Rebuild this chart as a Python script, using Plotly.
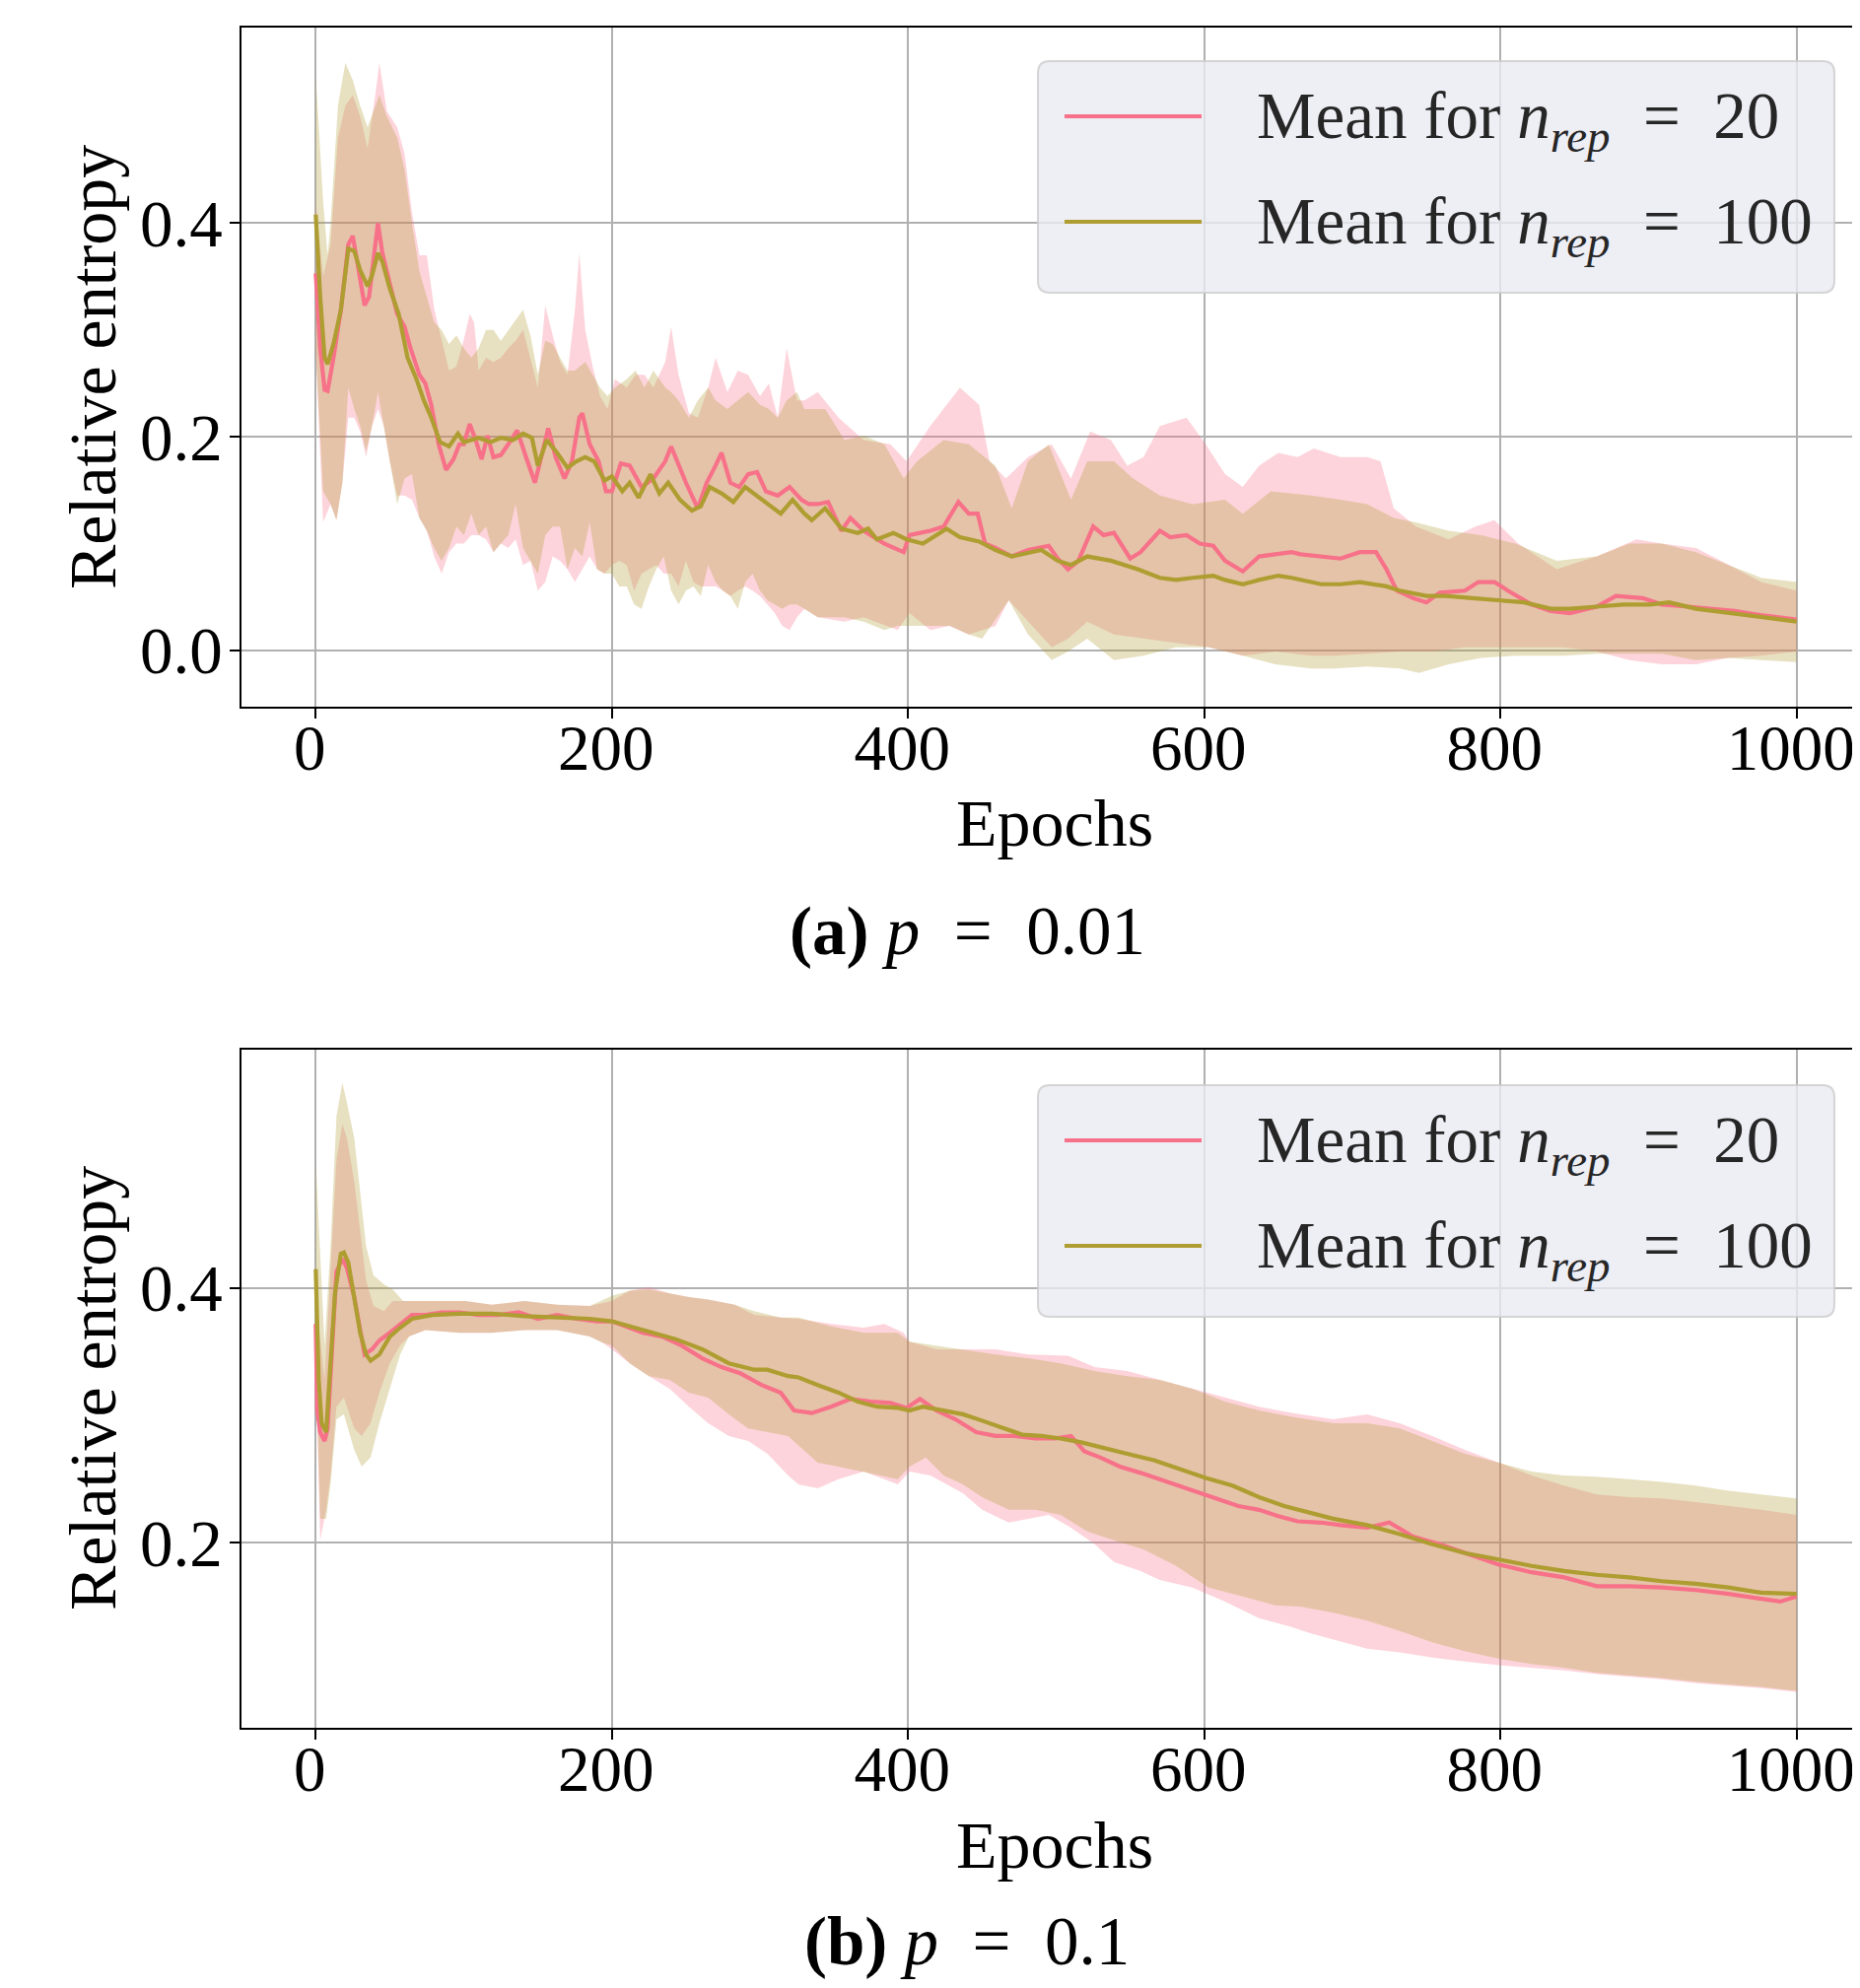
import plotly.graph_objects as go

W, H = 1887, 2017               # browser window
OFF = 8                         # default body margin of the html page
FW, FH = W - OFF, H - 2 * OFF   # figure size: fits the window without scrollbars
FONT = "Liberation Serif"
PINK = "#f77189"
OLIVE = "#ae9d31"
PINK_FILL = "rgba(247,113,137,0.30)"
OLIVE_FILL = "rgba(174,157,49,0.30)"
NB = "\u00a0"

X_TICKS = [0, 200, 400, 600, 800, 1000]
X_TICK_LABELS = ["0", "200", "400", "600", "800", "1000"]
A_Y_TICKS = [0.0, 0.2, 0.4]
A_Y_TICK_LABELS = ["0.0", "0.2", "0.4"]
B_Y_TICKS = [0.2, 0.4]
B_Y_TICK_LABELS = ["0.2", "0.4"]
LEGEND_LABELS = [f"Mean for <i>n</i><sub><i>rep</i></sub>{NB}{NB}={NB}{NB}20",
                 f"Mean for <i>n</i><sub><i>rep</i></sub>{NB}{NB}={NB}{NB}100"]
CAPTIONS = [f"<b>(a)</b> <i>p</i>{NB}{NB}={NB}{NB}0.01", f"<b>(b)</b> <i>p</i>{NB}{NB}={NB}{NB}0.1"]

# ---------------- panel (a): p = 0.01 ----------------  (epoch, value)
A_MEAN20 = [(0,0.353),(3,0.283),(6,0.244),(8,0.243),(12,0.274),(17,0.319),(22,0.380),(25,0.388),(28,0.364),
            (33,0.323),(36,0.331),(40,0.380),(42,0.400),(45,0.372),(50,0.343),(55,0.315),(60,0.303),(64,0.283),
            (70,0.258),(74,0.250),(78,0.230),(83,0.193),(88,0.169),(93,0.179),(97,0.193),(100,0.193),(104,0.212),
            (108,0.197),(112,0.179),(116,0.201),(120,0.181),(125,0.183),(130,0.193),(136,0.206),(142,0.181),
            (148,0.157),(153,0.185),(157,0.208),(162,0.181),(168,0.161),(173,0.177),(178,0.218),(180,0.222),
            (185,0.193),(191,0.177),(196,0.149),(200,0.149),(206,0.175),(212,0.173),(220,0.153),(228,0.161),
            (236,0.177),(240,0.191),(250,0.157),(258,0.133),(264,0.157),(270,0.173),(274,0.185),(280,0.157),
            (286,0.153),(292,0.165),(298,0.167),(304,0.149),(312,0.145),(320,0.153),(328,0.141),
            (333,0.137),(339,0.137),(346,0.139),(355,0.112),(361,0.124),(370,0.112),(384,0.100),(397,0.092),
            (401,0.108),(415,0.112),(424,0.116),(434,0.139),(441,0.128),(447,0.128),(452,0.100),(459,0.096),
            (470,0.088),(481,0.094),(495,0.098),(501,0.086),(508,0.076),(515,0.084),(525,0.116),(532,0.108),
            (539,0.110),(550,0.086),(557,0.092),(570,0.112),(577,0.106),(588,0.108),(597,0.100),(606,0.098),
            (614,0.084),(626,0.074),(637,0.088),(648,0.090),(659,0.092),(665,0.090),(679,0.088),(692,0.086),
            (705,0.092),(716,0.092),(723,0.076),(730,0.056),(741,0.049),(750,0.045),(759,0.054),(776,0.056),
            (785,0.064),(796,0.064),(805,0.056),(821,0.043),(834,0.037),(847,0.035),(865,0.041),(878,0.051),
            (896,0.049),(909,0.043),(927,0.041),(943,0.039),(958,0.037),(976,0.033),(989,0.031),(1000,0.029)]
A_MEAN100 = [(0,0.408),(3,0.331),(6,0.274),(8,0.268),(12,0.287),(17,0.319),(22,0.376),(26,0.374),(30,0.356),
             (35,0.341),(38,0.351),(42,0.372),(45,0.364),(50,0.339),(56,0.315),(62,0.274),(68,0.254),(73,0.234),
             (78,0.218),(84,0.195),(90,0.191),(96,0.203),(100,0.195),(110,0.199),(118,0.195),(125,0.199),
             (133,0.197),(140,0.203),(146,0.199),(150,0.173),(156,0.197),(163,0.185),(170,0.171),(176,0.177),
             (182,0.181),(188,0.177),(195,0.159),(200,0.163),(207,0.149),(212,0.157),(218,0.143),(226,0.165),
             (232,0.147),(238,0.157),(246,0.141),(254,0.131),(260,0.135),(266,0.153),(274,0.147),(282,0.139),
             (290,0.153),(298,0.145),(306,0.137),(314,0.128),(322,0.141),(330,0.128),(335,0.122),(344,0.133),
             (355,0.114),(366,0.110),(373,0.114),(379,0.104),(390,0.110),(399,0.104),(410,0.100),(426,0.114),
             (435,0.106),(448,0.102),(459,0.094),(470,0.088),(490,0.094),(501,0.084),(510,0.080),(521,0.088),
             (537,0.084),(555,0.076),(570,0.068),(581,0.066),(592,0.068),(606,0.070),(614,0.066),(626,0.062),
             (637,0.066),(650,0.070),(659,0.068),(665,0.066),(679,0.062),(692,0.062),(705,0.064),(723,0.060),
             (732,0.056),(750,0.051),(763,0.051),(781,0.049),(799,0.047),(816,0.045),(834,0.039),(847,0.039),
             (865,0.041),(883,0.043),(901,0.043),(914,0.045),(932,0.039),(954,0.035),(976,0.031),(1000,0.027)]
A_UP20 = [(0,0.42),(5,0.35),(10,0.38),(15,0.48),(20,0.51),(25,0.52),(30,0.50),(35,0.47),(40,0.518),(43,0.55),
          (48,0.505),(55,0.49),(60,0.465),(65,0.41),(70,0.37),(75,0.37),(80,0.32),(85,0.29),(90,0.262),
          (95,0.266),(100,0.291),(104,0.315),(107,0.307),(110,0.262),(115,0.274),(120,0.27),(125,0.274),
          (130,0.283),(135,0.29),(140,0.30),(145,0.274),(150,0.246),(155,0.323),(160,0.295),(165,0.27),
          (170,0.258),(175,0.319),(178,0.372),(182,0.30),(187,0.266),(192,0.238),(197,0.226),(202,0.254),
          (210,0.246),(216,0.258),(222,0.258),(228,0.246),(236,0.27),(240,0.303),(245,0.258),(252,0.222),
          (258,0.218),(265,0.246),(270,0.274),(278,0.242),(285,0.262),(292,0.258),(300,0.238),(306,0.250),
          (312,0.218),(318,0.283),(325,0.234),(330,0.234),(339,0.242),(353,0.218),(370,0.197),(388,0.193),
          (399,0.177),(415,0.21),(435,0.246),(448,0.230),(455,0.177),(466,0.161),(481,0.181),(497,0.193),
          (510,0.161),(523,0.205),(537,0.197),(548,0.173),(559,0.181),(570,0.21),(588,0.218),(601,0.193),
          (614,0.165),(626,0.153),(637,0.173),(650,0.185),(663,0.181),(674,0.189),(692,0.181),(710,0.181),
          (719,0.177),(728,0.133),(743,0.116),(765,0.104),(783,0.116),(796,0.122),(812,0.10),(838,0.076),
          (865,0.088),(892,0.104),(909,0.10),(932,0.096),(949,0.084),(976,0.064),(1000,0.056)]
A_UP100 = [(0,0.54),(5,0.42),(8,0.37),(10,0.40),(15,0.51),(20,0.55),(25,0.534),(30,0.51),(35,0.49),(40,0.51),
           (43,0.52),(48,0.50),(55,0.48),(60,0.45),(65,0.40),(70,0.355),(75,0.33),(80,0.307),(85,0.30),
           (90,0.287),(95,0.295),(100,0.283),(105,0.274),(110,0.283),(115,0.30),(120,0.30),(125,0.29),
           (130,0.30),(135,0.31),(140,0.319),(145,0.295),(150,0.258),(155,0.29),(160,0.287),(165,0.274),
           (170,0.262),(175,0.262),(182,0.27),(187,0.258),(192,0.246),(197,0.238),(202,0.246),(210,0.254),
           (216,0.262),(222,0.246),(228,0.262),(236,0.246),(240,0.242),(245,0.234),(252,0.218),(258,0.234),
           (265,0.246),(270,0.234),(278,0.226),(285,0.234),(292,0.242),(300,0.230),(306,0.226),(312,0.218),
           (318,0.234),(325,0.242),(330,0.226),(344,0.226),(357,0.197),(370,0.201),(384,0.193),(397,0.161),
           (406,0.177),(424,0.197),(441,0.193),(459,0.173),(470,0.133),(481,0.177),(495,0.193),(510,0.141),
           (521,0.177),(539,0.177),(552,0.161),(570,0.145),(592,0.137),(614,0.141),(626,0.128),(645,0.149),
           (672,0.145),(692,0.141),(710,0.137),(728,0.124),(743,0.120),(765,0.112),(787,0.108),(810,0.10),
           (838,0.084),(865,0.088),(887,0.10),(909,0.10),(932,0.092),(954,0.080),(976,0.068),(1000,0.064)]
A_LO20 = [(0,0.28),(5,0.12),(10,0.137),(14,0.122),(18,0.157),(22,0.218),(26,0.218),(30,0.205),(34,0.181),
          (38,0.21),(42,0.226),(46,0.21),(50,0.177),(55,0.145),(60,0.145),(65,0.141),(70,0.124),(75,0.112),
          (80,0.088),(85,0.072),(90,0.092),(95,0.10),(100,0.10),(105,0.108),(110,0.108),(115,0.104),
          (120,0.092),(125,0.10),(130,0.096),(135,0.104),(140,0.08),(145,0.084),(150,0.056),(155,0.064),
          (160,0.088),(165,0.084),(170,0.076),(175,0.064),(180,0.076),(185,0.088),(190,0.076),(195,0.072),
          (200,0.08),(205,0.084),(210,0.08),(215,0.056),(220,0.072),(225,0.076),(230,0.080),(235,0.072),
          (240,0.072),(245,0.06),(250,0.084),(255,0.064),(260,0.06),(265,0.06),(270,0.06),(275,0.056),
          (280,0.051),(285,0.056),(290,0.06),(295,0.056),(300,0.051),(305,0.043),(310,0.035),(315,0.023),
          (320,0.019),(325,0.031),(330,0.039),(339,0.031),(357,0.027),(370,0.031),(393,0.019),(401,0.035),
          (415,0.019),(428,0.023),(441,0.015),(459,0.023),(468,0.047),(481,0.027),(497,0.003),(508,0.011),
          (521,0.027),(539,0.015),(559,0.011),(581,0.007),(603,0.003),(626,-0.005),(648,-0.001),(672,-0.005),
          (688,-0.005),(710,-0.003),(732,-0.001),(754,-0.001),(776,0.003),(799,0.003),(821,0.003),(843,0.003),
          (865,-0.001),(887,-0.009),(909,-0.013),(932,-0.013),(954,-0.007),(976,-0.005),(1000,-0.001)]
A_LO100 = [(0,0.28),(5,0.149),(10,0.137),(14,0.122),(18,0.157),(22,0.246),(26,0.226),(30,0.21),(34,0.187),
           (38,0.21),(42,0.242),(46,0.21),(50,0.177),(55,0.137),(60,0.161),(65,0.165),(70,0.124),(75,0.112),
           (80,0.096),(85,0.084),(90,0.096),(95,0.116),(100,0.108),(105,0.128),(110,0.108),(115,0.116),
           (120,0.092),(125,0.10),(130,0.108),(135,0.137),(140,0.096),(145,0.084),(150,0.072),(155,0.108),
           (160,0.116),(165,0.116),(170,0.076),(175,0.096),(180,0.088),(185,0.12),(190,0.076),(195,0.072),
           (200,0.072),(205,0.06),(210,0.06),(215,0.043),(220,0.039),(225,0.06),(230,0.076),(235,0.088),
           (240,0.056),(245,0.043),(250,0.056),(255,0.06),(260,0.051),(265,0.08),(270,0.064),(275,0.056),
           (280,0.051),(285,0.039),(290,0.064),(295,0.072),(300,0.056),(305,0.047),(310,0.043),(315,0.039),
           (320,0.043),(325,0.043),(330,0.039),(339,0.031),(357,0.031),(370,0.027),(384,0.019),(393,0.023),
           (415,0.023),(428,0.023),(441,0.015),(450,0.011),(468,0.047),(481,0.015),(497,-0.009),(508,-0.001),
           (521,0.011),(539,-0.009),(559,-0.005),(581,0.003),(603,0.003),(626,-0.005),(648,-0.013),(672,-0.017),
           (688,-0.017),(710,-0.015),(732,-0.017),(745,-0.021),(765,-0.013),(787,-0.007),(810,-0.005),
           (843,-0.005),(865,-0.003),(887,-0.003),(909,-0.003),(932,-0.009),(954,-0.007),(976,-0.009),(1000,-0.011)]

# ---------------- panel (b): p = 0.1 ----------------
B_MEAN20 = [(0,0.372),(1,0.304),(3,0.287),(6,0.280),(8,0.290),(11,0.348),(14,0.413),(18,0.423),(21,0.416),
            (26,0.393),(30,0.365),(33,0.348),(38,0.352),(43,0.359),(50,0.365),(57,0.372),(65,0.379),(74,0.379),
            (85,0.381),(97,0.381),(110,0.379),(123,0.379),(137,0.381),(150,0.376),(163,0.379),(176,0.376),
            (190,0.374),(200,0.374),(210,0.370),(221,0.365),(234,0.362),(247,0.355),(261,0.345),(274,0.338),
            (287,0.333),(301,0.324),(314,0.318),(323,0.304),(335,0.302),(348,0.307),(361,0.313),(375,0.311),
            (388,0.310),(399,0.306),(408,0.313),(419,0.304),(432,0.297),(446,0.287),(459,0.284),(472,0.284),
            (486,0.282),(499,0.282),(510,0.284),(519,0.272),(530,0.267),(543,0.260),(557,0.255),(570,0.250),
            (583,0.245),(597,0.239),(610,0.234),(623,0.229),(637,0.226),(650,0.221),(663,0.217),(679,0.216),
            (692,0.214),(710,0.212),(725,0.216),(741,0.205),(759,0.199),(781,0.190),(799,0.183),(821,0.177),
            (843,0.173),(865,0.166),(887,0.166),(909,0.165),(932,0.163),(954,0.160),(976,0.156),(989,0.154),
            (1000,0.158)]
B_MEAN100 = [(0,0.415),(2,0.328),(4,0.294),(7,0.287),(10,0.341),(13,0.396),(17,0.427),(19,0.428),(22,0.420),
             (26,0.393),(30,0.365),(34,0.348),(37,0.343),(43,0.348),(50,0.362),(57,0.369),(65,0.376),(79,0.379),
             (97,0.380),(119,0.380),(141,0.378),(163,0.377),(185,0.376),(200,0.374),(216,0.369),(230,0.364),
             (243,0.360),(261,0.352),(279,0.341),(296,0.336),(305,0.336),(319,0.331),(326,0.330),(339,0.324),
             (353,0.318),(366,0.311),(379,0.307),(393,0.306),(401,0.304),(410,0.307),(424,0.304),(437,0.301),
             (450,0.296),(464,0.290),(477,0.285),(490,0.284),(503,0.282),(517,0.279),(530,0.275),(548,0.270),
             (566,0.265),(583,0.258),(601,0.251),(619,0.245),(637,0.236),(654,0.229),(672,0.224),(687,0.219),
             (710,0.214),(732,0.207),(754,0.199),(776,0.192),(799,0.187),(821,0.182),(843,0.178),(865,0.175),
             (887,0.173),(909,0.170),(932,0.168),(954,0.165),(976,0.161),(1000,0.160)]
B_UP20 = [(0,0.38),(2,0.37),(6,0.328),(10,0.41),(14,0.501),(18,0.529),(21,0.518),(26,0.484),(30,0.443),
          (34,0.406),(39,0.386),(46,0.382),(52,0.390),(59,0.390),(70,0.390),(85,0.390),(101,0.390),(119,0.387),
          (141,0.390),(163,0.387),(185,0.386),(200,0.390),(212,0.398),(225,0.401),(239,0.396),(252,0.393),
          (265,0.391),(283,0.387),(296,0.379),(314,0.377),(326,0.376),(348,0.372),(370,0.369),(384,0.372),
          (397,0.365),(401,0.358),(419,0.352),(437,0.352),(459,0.352),(481,0.348),(508,0.347),(526,0.338),
          (548,0.335),(570,0.328),(592,0.321),(614,0.314),(637,0.307),(659,0.302),(687,0.297),(710,0.301),
          (732,0.294),(754,0.284),(776,0.273),(799,0.263),(821,0.253),(843,0.245),(865,0.238),(887,0.236),
          (909,0.235),(932,0.232),(954,0.229),(976,0.226),(1000,0.222)]
B_UP100 = [(0,0.50),(2,0.45),(6,0.355),(10,0.433),(14,0.535),(18,0.561),(21,0.546),(26,0.518),(30,0.474),
           (34,0.433),(39,0.410),(46,0.403),(52,0.399),(59,0.390),(70,0.390),(85,0.390),(101,0.390),(119,0.387),
           (141,0.390),(163,0.387),(185,0.386),(200,0.394),(212,0.398),(225,0.399),(239,0.396),(252,0.393),
           (265,0.391),(283,0.387),(296,0.382),(314,0.377),(326,0.377),(348,0.370),(370,0.365),(393,0.365),
           (401,0.358),(437,0.352),(459,0.348),(481,0.345),(503,0.341),(526,0.335),(548,0.331),(570,0.328),
           (592,0.321),(614,0.311),(637,0.304),(659,0.299),(687,0.294),(710,0.294),(732,0.290),(754,0.280),
           (776,0.270),(799,0.263),(821,0.256),(843,0.253),(865,0.252),(887,0.250),(909,0.248),(932,0.245),
           (954,0.241),(976,0.238),(1000,0.235)]
B_LO20 = [(0,0.34),(3,0.202),(7,0.226),(10,0.253),(14,0.307),(19,0.314),(26,0.290),(31,0.284),(37,0.294),
          (43,0.318),(50,0.341),(57,0.355),(63,0.362),(74,0.367),(97,0.365),(119,0.365),(141,0.367),(163,0.367),
          (185,0.362),(194,0.357),(200,0.352),(212,0.341),(225,0.331),(239,0.321),(252,0.307),(265,0.294),
          (279,0.284),(292,0.280),(305,0.270),(319,0.253),(326,0.246),(339,0.243),(353,0.250),(370,0.256),
          (393,0.246),(401,0.256),(415,0.253),(437,0.239),(450,0.226),(468,0.216),(481,0.219),(495,0.222),
          (510,0.212),(526,0.199),(539,0.185),(557,0.178),(570,0.171),(592,0.165),(614,0.154),(637,0.141),
          (659,0.134),(672,0.129),(688,0.124),(710,0.117),(732,0.114),(754,0.110),(776,0.107),(799,0.104),
          (821,0.102),(843,0.100),(865,0.097),(887,0.095),(909,0.093),(932,0.090),(954,0.088),(976,0.086),
          (1000,0.083)]
B_LO100 = [(0,0.35),(3,0.219),(7,0.219),(10,0.246),(14,0.297),(19,0.301),(26,0.273),(31,0.260),(37,0.267),
           (43,0.294),(50,0.321),(57,0.348),(63,0.362),(74,0.367),(97,0.365),(119,0.365),(141,0.367),(163,0.367),
           (185,0.362),(194,0.357),(200,0.355),(212,0.341),(225,0.331),(239,0.328),(252,0.318),(265,0.314),
           (279,0.301),(292,0.290),(305,0.287),(319,0.284),(326,0.277),(339,0.263),(353,0.260),(370,0.256),
           (393,0.250),(401,0.260),(412,0.267),(424,0.253),(437,0.246),(450,0.236),(468,0.226),(486,0.226),
           (503,0.222),(521,0.209),(539,0.202),(559,0.195),(581,0.182),(603,0.165),(626,0.158),(648,0.151),
           (665,0.150),(688,0.145),(710,0.139),(732,0.131),(754,0.122),(776,0.115),(799,0.109),(821,0.105),
           (843,0.102),(865,0.098),(887,0.096),(909,0.094),(932,0.091),(954,0.089),(976,0.087),(1000,0.084)]

PANELS = [
    dict(xa="x", ya="y", mean20=A_MEAN20, mean100=A_MEAN100, up20=A_UP20, lo20=A_LO20, up100=A_UP100, lo100=A_LO100),
    dict(xa="x2", ya="y2", mean20=B_MEAN20, mean100=B_MEAN100, up20=B_UP20, lo20=B_LO20, up100=B_UP100, lo100=B_LO100),
]

fig = go.Figure()


def band(upper, lower, fillcolor, xa, ya):
    xs = [p[0] for p in upper] + [p[0] for p in lower][::-1]
    ys = [p[1] for p in upper] + [p[1] for p in lower][::-1]
    fig.add_trace(go.Scatter(x=xs, y=ys, fill="toself", fillcolor=fillcolor, mode="lines",
                             line=dict(width=0), hoverinfo="skip", showlegend=False, xaxis=xa, yaxis=ya))


def line(series, color, xa, ya, name):
    fig.add_trace(go.Scatter(x=[p[0] for p in series], y=[p[1] for p in series], mode="lines",
                             line=dict(color=color, width=4.2), name=name, showlegend=False,
                             xaxis=xa, yaxis=ya))


for P in PANELS:
    band(P["up20"], P["lo20"], PINK_FILL, P["xa"], P["ya"])
    band(P["up100"], P["lo100"], OLIVE_FILL, P["xa"], P["ya"])
    line(P["mean20"], PINK, P["xa"], P["ya"], "Mean for n_rep = 20")
    line(P["mean100"], OLIVE, P["xa"], P["ya"], "Mean for n_rep = 100")


def px(x):
    """window pixel x -> paper fraction"""
    return (x - OFF) / FW


def py(y):
    """window pixel y -> paper fraction"""
    return 1 - (y - OFF) / FH


X_RANGE = [-50, 1042.8]
axis_common = dict(showgrid=True, gridcolor="#b0b0b0", gridwidth=1.6, showline=True, linecolor="black",
                   linewidth=2, ticks="outside", ticklen=10, tickwidth=2, tickcolor="black",
                   zeroline=False, ticklabeloverflow="allow")
XFONT = dict(family=FONT, size=65, color="black")
YFONT = dict(family=FONT, size=67, color="black")

fig.update_layout(
    width=FW, height=FH, paper_bgcolor="white", plot_bgcolor="white",
    margin=dict(l=0, r=0, t=0, b=0), showlegend=False,
    xaxis=dict(domain=[px(245.2), 1], range=X_RANGE, tickvals=X_TICKS, ticktext=X_TICK_LABELS,
               anchor="y", mirror=True, ticklabelstandoff=-26, ticklabelshift=-6, tickfont=XFONT,
               **axis_common),
    yaxis=dict(domain=[py(716.5), py(28)], range=[-0.0522, 0.5831], tickvals=A_Y_TICKS,
               ticktext=A_Y_TICK_LABELS, anchor="x", ticklabelstandoff=-6, tickfont=YFONT, **axis_common),
    xaxis2=dict(domain=[px(245.2), 1], range=X_RANGE, tickvals=X_TICKS, ticktext=X_TICK_LABELS,
                anchor="y2", mirror=True, ticklabelstandoff=-26, ticklabelshift=-6, tickfont=XFONT,
                **axis_common),
    yaxis2=dict(domain=[py(1753), py(1065)], range=[0.0549, 0.5872], tickvals=B_Y_TICKS,
                ticktext=B_Y_TICK_LABELS, anchor="x2", ticklabelstandoff=-6, tickfont=YFONT, **axis_common),
)

ann = []
shapes = []
TXT = dict(family=FONT, size=68, color="black")
CAP = dict(family=FONT, size=69, color="black")
LEG = dict(family=FONT, size=67, color="#262626")

for i, (ep_y, cap_y, ylab_y, leg_top) in enumerate([(835, 945, 373, 62), (1872, 1970, 1409, 1101)]):
    ann.append(dict(text="Epochs", x=px(1070), y=py(ep_y), xref="paper", yref="paper",
                    xanchor="center", yanchor="middle", showarrow=False, font=TXT))
    ann.append(dict(text="Relative entropy", x=px(94), y=py(ylab_y), xref="paper", yref="paper",
                    xanchor="center", yanchor="middle", showarrow=False, textangle=-90, font=TXT))
    ann.append(dict(text=CAPTIONS[i], x=px(981), y=py(cap_y), xref="paper", yref="paper",
                    xanchor="center", yanchor="middle", showarrow=False, font=CAP))
    # legend box (rounded corners)
    x0, x1, y0, y1, r = 1053, 1861, leg_top, leg_top + 235, 12
    path = (f"M {px(x0 + r)},{py(y0)} L {px(x1 - r)},{py(y0)} Q {px(x1)},{py(y0)} {px(x1)},{py(y0 + r)} "
            f"L {px(x1)},{py(y1 - r)} Q {px(x1)},{py(y1)} {px(x1 - r)},{py(y1)} "
            f"L {px(x0 + r)},{py(y1)} Q {px(x0)},{py(y1)} {px(x0)},{py(y1 - r)} "
            f"L {px(x0)},{py(y0 + r)} Q {px(x0)},{py(y0)} {px(x0 + r)},{py(y0)} Z")
    shapes.append(dict(type="path", path=path, xref="paper", yref="paper", layer="above",
                       fillcolor="rgba(234,234,242,0.8)", line=dict(color="rgba(204,204,204,0.8)", width=2)))
    for j, (col, dy) in enumerate([(PINK, 56), (OLIVE, 163)]):
        ly = leg_top + dy
        shapes.append(dict(type="line", xref="paper", yref="paper", layer="above",
                           x0=px(1080), x1=px(1219), y0=py(ly), y1=py(ly), line=dict(color=col, width=4.2)))
        ann.append(dict(text=LEGEND_LABELS[j], x=px(1273), y=py(ly + 4), xref="paper", yref="paper",
                        xanchor="left", yanchor="middle", showarrow=False, font=LEG))

fig.update_layout(annotations=ann, shapes=shapes)
fig.write_html("out.html")
